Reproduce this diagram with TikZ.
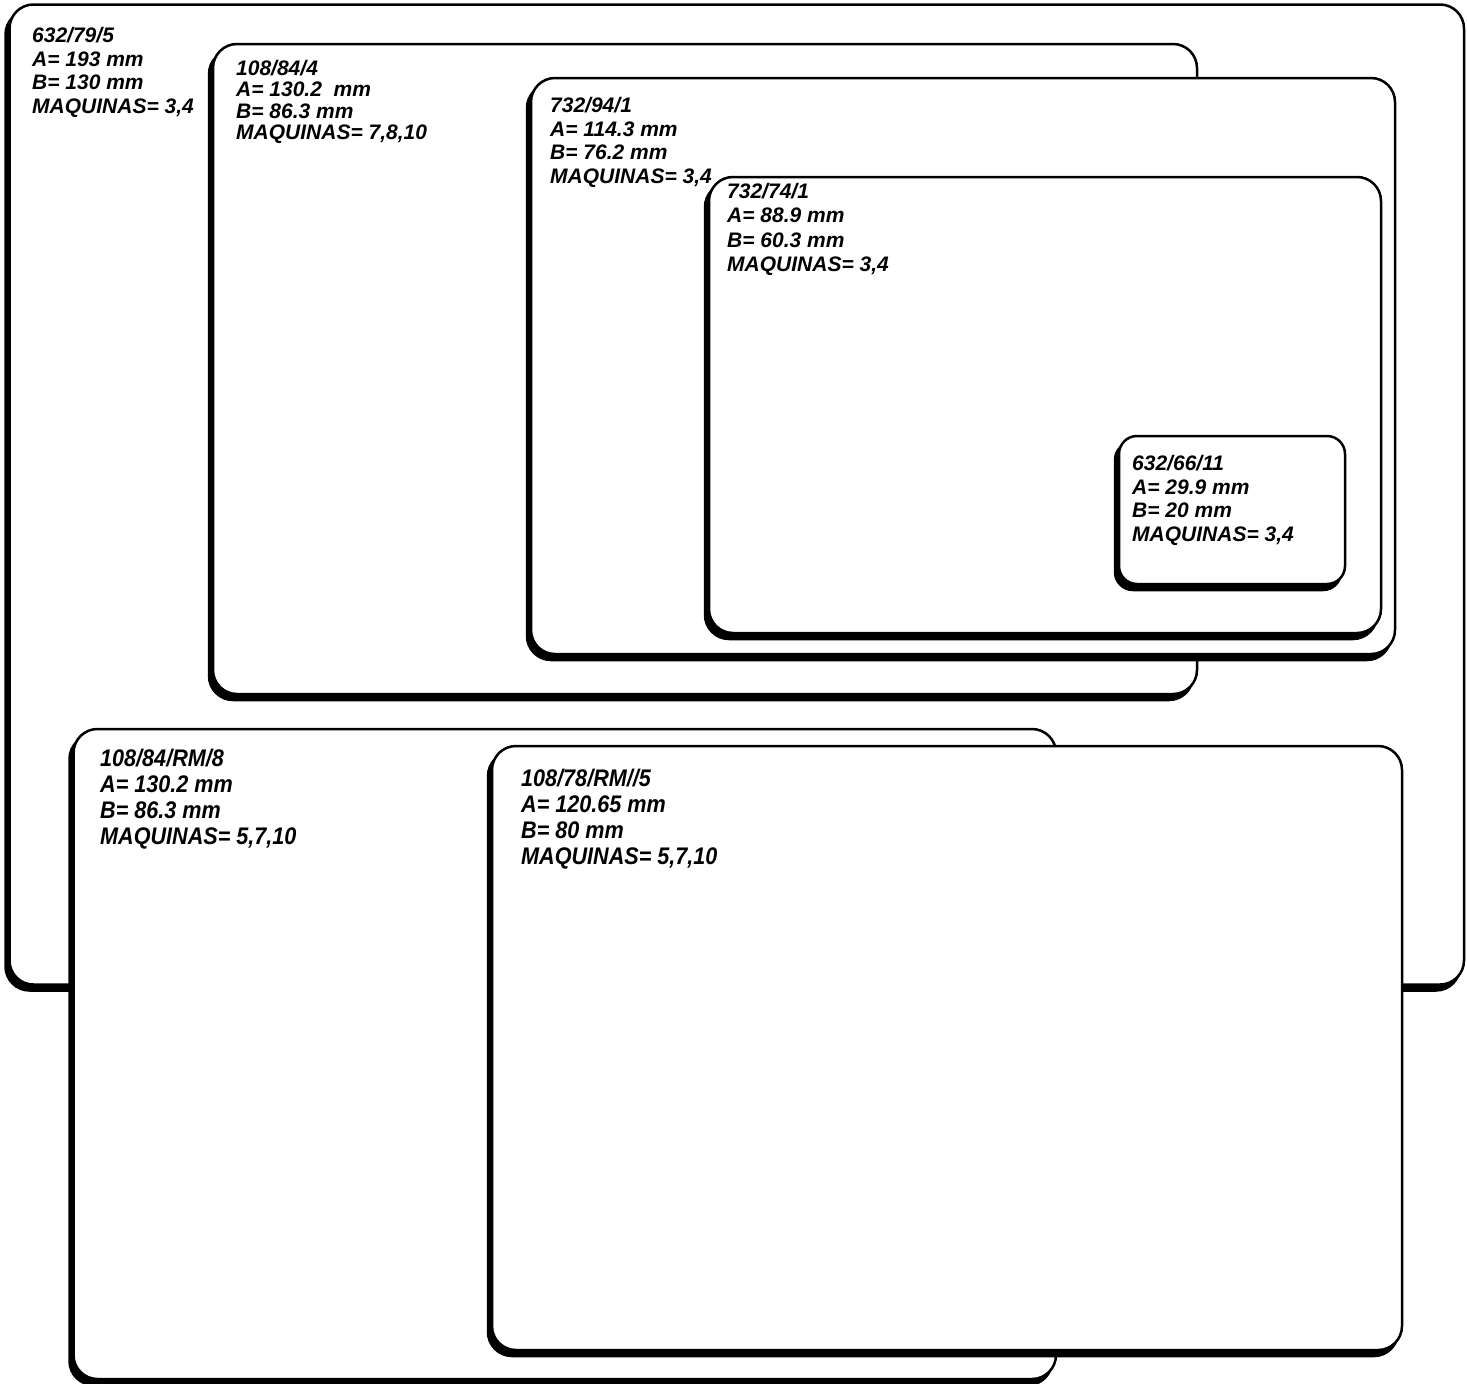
\documentclass[tikz,border=0pt]{standalone}
\usepackage{fontspec}
\setmainfont{Liberation Sans}
\newfontfamily\narrowsans[FakeStretch=0.9]{Liberation Sans}
\usetikzlibrary{shadows}
\newcommand\boxfont[1]{\fontsize{21}{#1}\selectfont\bfseries\itshape}
\newcommand\narrowfont[1]{\narrowsans\fontsize{24}{#1}\selectfont\bfseries\itshape}

\begin{document}
\begin{tikzpicture}[x=1pt, y=-1pt,
    card/.style={rectangle, draw, line width=2.5pt, fill=white, rounded corners=24pt, outer sep=0pt, anchor=north west,
        general shadow={shadow xshift=-4pt, shadow yshift=-6pt, fill=black, draw=black, line width=2.5pt}},
    boxsize/.style 2 args={minimum width=#1pt, minimum height=#2pt},
    info/.style={anchor=north west, inner sep=0pt, align=left, font=\boxfont{#1}},
    info/.default=23.7,
    infonarrow/.style={anchor=north west, inner sep=0pt, align=left, font=\narrowfont{26}}
]
\useasboundingbox (0,0) rectangle (1467,1384);

% Outer format
\node[card, boxsize={1454.5}{980}] (b1) at (9.5,4.5) {};
\node[info] (t1) at ([shift={(22.5,22.5)}]b1.north west) {632/79/5\\A= 193 mm\\B= 130 mm\\MAQUINAS= 3,4};

% Nested formats
\node[card, boxsize={984}{650}] (b2) at (213,44) {};
\node[info=21.3] (t2) at ([shift={(23,16)}]b2.north west) {108/84/4\\A= 130.2~~mm\\B= 86.3 mm\\MAQUINAS= 7,8,10};

\node[card, boxsize={864}{576}] (b3) at (531,78) {};
\node[info] (t3) at ([shift={(19,19)}]b3.north west) {732/94/1\\A= 114.3 mm\\B= 76.2 mm\\MAQUINAS= 3,4};

\node[card, boxsize={672}{456}] (b4) at (709,177) {};
\node[info=24.3] (t4) at ([shift={(18,6)}]b4.north west) {732/74/1\\A= 88.9 mm\\B= 60.3 mm\\MAQUINAS= 3,4};

\node[card, rounded corners=18pt, boxsize={226}{148}] (b5) at (1119,436) {};
\node[info] (t5) at ([shift={(13,19)}]b5.north west) {632/66/11\\A= 29.9 mm\\B= 20 mm\\MAQUINAS= 3,4};

% RM formats
\node[card, boxsize={982.5}{650}] (b6) at (73.5,729) {};
\node[infonarrow] (t6) at ([shift={(26.5,20)}]b6.north west) {108/84/RM/8\\A= 130.2 mm\\B= 86.3 mm\\MAQUINAS= 5,7,10};

\node[card, boxsize={910}{604}] (b7) at (492,746) {};
\node[infonarrow] (t7) at ([shift={(29,23)}]b7.north west) {108/78/RM//5\\A= 120.65 mm\\B= 80 mm\\MAQUINAS= 5,7,10};
\end{tikzpicture}
\end{document}
